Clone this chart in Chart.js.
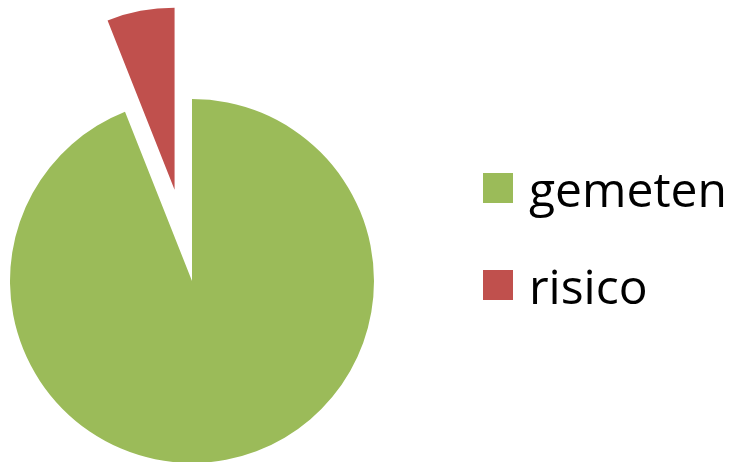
<!DOCTYPE html>
<html>
<head>
<meta charset="utf-8">
<script src="https://cdn.jsdelivr.net/npm/chart.js@4/dist/chart.umd.min.js"></script>
<style>
  html, body { margin: 0; padding: 0; background: #ffffff; }
  #wrap { width: 734px; height: 462px; position: relative; }
</style>
</head>
<body>
<div id="wrap"><canvas id="chart" width="734" height="462"></canvas></div>
<script>
// Share of measurements
const categories = ['gemeten', 'risico'];
const shares = [94, 6];
const sliceColors = ['#9BBB59', '#C0504D'];

// Pulls selected slices out from the centre along their middle angle
const explodePlugin = {
  id: 'explode',
  afterDatasetsUpdate(chart, args, opts) {
    const meta = chart.getDatasetMeta(0);
    const dist = opts.distances || [];
    meta.data.forEach((arc, i) => {
      const d = dist[i] || 0;
      if (!d) return;
      const mid = (arc.startAngle + arc.endAngle) / 2;
      arc.x += Math.cos(mid) * d;
      arc.y += Math.sin(mid) * d;
    });
  }
};

// Legend on the right: coloured square followed by the label
const sideLegendPlugin = {
  id: 'sideLegend',
  afterDraw(chart, args, opts) {
    const ctx = chart.ctx;
    const ds = chart.data.datasets[0];
    ctx.save();
    ctx.font = opts.font;
    ctx.textBaseline = 'alphabetic';
    chart.data.labels.forEach((label, i) => {
      const top = opts.top + i * opts.rowGap;
      ctx.fillStyle = ds.backgroundColor[i];
      ctx.fillRect(opts.left, top, opts.box, opts.box);
      ctx.fillStyle = '#000000';
      ctx.fillText(label, opts.textLeft, top + opts.baseline);
    });
    ctx.restore();
  }
};

new Chart(document.getElementById('chart'), {
  type: 'pie',
  data: {
    labels: categories,
    datasets: [{
      data: shares,
      backgroundColor: sliceColors,
      borderWidth: 0,
      clip: false
    }]
  },
  options: {
    responsive: false,
    animation: false,
    radius: 182,
    layout: { padding: { left: 0, top: 100, right: 350, bottom: 0 } },
    plugins: {
      legend: { display: false },
      tooltip: { enabled: false },
      explode: { distances: [0, 93] },
      sideLegend: {
        font: '48px "Open Sans", sans-serif',
        left: 483, top: 173, box: 30, rowGap: 97,
        textLeft: 529, baseline: 34
      }
    }
  },
  plugins: [explodePlugin, sideLegendPlugin]
});
</script>
</body>
</html>
